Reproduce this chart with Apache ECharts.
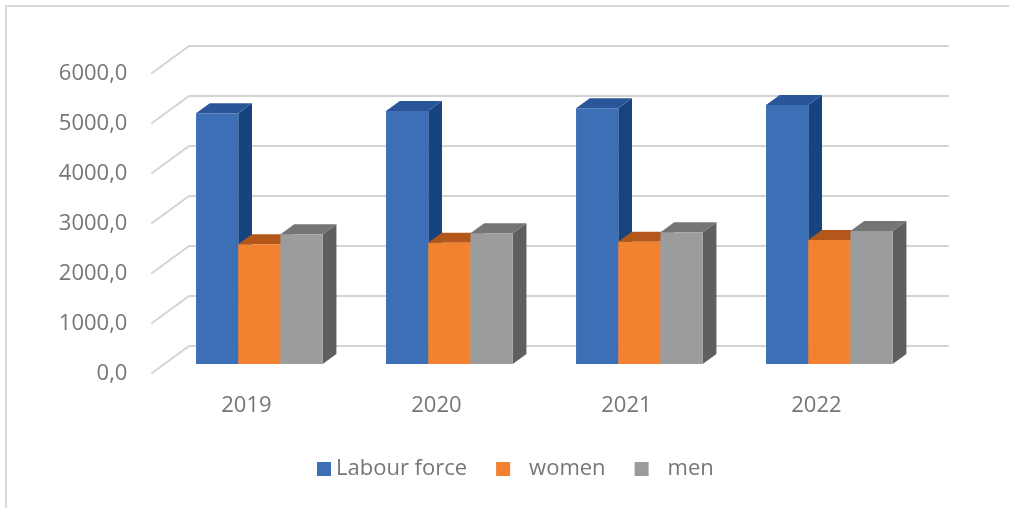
<!DOCTYPE html>
<html>
<head>
<meta charset="utf-8">
<script src="https://cdn.jsdelivr.net/npm/echarts@6/dist/echarts.min.js"></script>
<style>
  html, body { margin: 0; padding: 0; background: #ffffff; }
  #chart { width: 1009px; height: 508px; }
</style>
</head>
<body>
<div id="chart"></div>
<script>
// Labour force by year, split into women and men (thousands)
const years = ['2019', '2020', '2021', '2022'];
const labourForce = [5015, 5060, 5115, 5180];
const women = [2395, 2425, 2445, 2480];
const men = [2595, 2615, 2635, 2660];
const yTicks = [0, 1000, 2000, 3000, 4000, 5000, 6000];

// Oblique 3D projection: vector from the back wall to the front edge of the floor
const DEPTH = [-37.6, 27.5];
const BAR_FRONT = 0.655;   // fraction of depth where bar front faces sit
const BAR_BACK = 0.29;     // fraction of depth where bar back faces sit
const GROUP = 2 / 3;       // share of each category slot used by the bar group

const GRID_COLOR = '#d4d4d4';
const TEXT_COLOR = '#767676';
const FONT = 'Open Sans';
const FONT_SIZE = 22;

const faceColors = [
  { front: '#3d6fb6', top: '#2a5699', side: '#17437e' },
  { front: '#f28130', top: '#b3581a', side: '#8f4512' },
  { front: '#9a9c9e', top: '#747577', side: '#5e5f61' }
];

function bar3d(k, faces) {
  return function (params, api) {
    const c = api.value(0);
    const v = api.value(1);
    const base = api.coord([c, 0]);
    const top = api.coord([c, v]);
    const slot = api.size([1, 0])[0];
    const bw = slot * GROUP / 3;
    const left = base[0] - slot * GROUP / 2 + k * bw;
    const right = left + bw;
    const fx = DEPTH[0] * BAR_FRONT, fy = DEPTH[1] * BAR_FRONT;
    const bx = DEPTH[0] * BAR_BACK, by = DEPTH[1] * BAR_BACK;
    const yT = top[1], yB = base[1];
    return {
      type: 'group',
      children: [
        {
          type: 'polygon',
          shape: { points: [
            [right + fx, yT + fy], [right + bx, yT + by],
            [right + bx, yB + by], [right + fx, yB + fy]
          ] },
          style: { fill: faces.side }
        },
        {
          type: 'polygon',
          shape: { points: [
            [left + fx, yT + fy], [right + fx, yT + fy],
            [right + bx, yT + by], [left + bx, yT + by]
          ] },
          style: { fill: faces.top }
        },
        {
          type: 'rect',
          shape: { x: left + fx, y: yT + fy, width: bw, height: yB - yT },
          style: { fill: faces.front }
        }
      ]
    };
  };
}

const seriesDefs = [
  { name: 'Labour force', values: labourForce },
  { name: 'women', values: women },
  { name: 'men', values: men }
];

const chart = echarts.init(document.getElementById('chart'), null, { renderer: 'canvas' });

const option = {
  animation: false,
  textStyle: { fontFamily: FONT },
  graphic: [{
    type: 'rect',
    shape: { x: 6, y: 6, width: 1100, height: 600 },
    style: { fill: 'none', stroke: '#d9d9d9', lineWidth: 2 },
    silent: true
  }],
  grid: [
    // back wall
    { left: 189, right: 60, top: 46, bottom: 162 },
    // front edge of the floor (carries the axis labels)
    { left: 189 + DEPTH[0], right: 60 - DEPTH[0], top: 46 + DEPTH[1], bottom: 162 - DEPTH[1] }
  ],
  xAxis: [
    { gridIndex: 0, type: 'category', data: years, show: false },
    {
      gridIndex: 1, type: 'category', data: years,
      axisLine: { show: false }, axisTick: { show: false },
      axisLabel: { color: TEXT_COLOR, fontSize: FONT_SIZE, fontFamily: FONT, margin: 21 }
    }
  ],
  yAxis: [
    {
      gridIndex: 0, type: 'value', min: 0, max: 6000, interval: 1000,
      axisLine: { show: false }, axisTick: { show: false }, axisLabel: { show: false },
      splitLine: { show: true, lineStyle: { color: GRID_COLOR, width: 2 } }
    },
    {
      gridIndex: 1, type: 'value', min: 0, max: 6000, interval: 1000,
      axisLine: { show: false }, axisTick: { show: false },
      splitLine: { show: false },
      axisLabel: {
        color: TEXT_COLOR, fontSize: FONT_SIZE, fontFamily: FONT, margin: 24,
        formatter: v => v.toFixed(1).replace('.', ',')
      }
    }
  ],
  legend: {
    data: seriesDefs.map(s => s.name),
    left: 317, top: 458, padding: 0,
    icon: 'rect', itemWidth: 14, itemHeight: 14, itemGap: 29,
    textStyle: {
      color: TEXT_COLOR, fontSize: FONT_SIZE, fontFamily: FONT,
      rich: { gap: { width: 14 } }
    },
    formatter: name => (name === 'Labour force' ? name : '{gap|}' + name),
    selectedMode: false
  },
  series: [
    {
      // slanted side-wall gridlines joining front tick labels to the back wall
      type: 'custom',
      name: 'sideGrid',
      xAxisIndex: 0, yAxisIndex: 0,
      silent: true, z: 1,
      data: yTicks.map(v => [0, v]),
      renderItem: function (params, api) {
        const y = api.coord([0, api.value(1)])[1];
        const x = params.coordSys.x;
        return {
          type: 'line',
          shape: { x1: x + DEPTH[0], y1: y + DEPTH[1], x2: x, y2: y },
          style: { stroke: GRID_COLOR, lineWidth: 2 }
        };
      }
    }
  ].concat(seriesDefs.map((s, k) => ({
    type: 'custom',
    name: s.name,
    xAxisIndex: 0, yAxisIndex: 0,
    z: 2,
    itemStyle: { color: faceColors[k].front },
    data: s.values.map((v, i) => [i, v]),
    renderItem: bar3d(k, faceColors[k])
  })))
};

chart.setOption(option);
</script>
</body>
</html>
